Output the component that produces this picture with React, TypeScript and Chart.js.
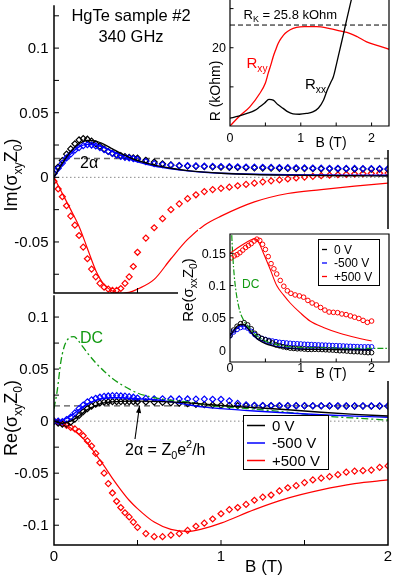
import React, { useEffect, useRef } from 'react';
import { Chart, registerables } from 'chart.js';
Chart.register(...registerables);

const FONT = '"Liberation Sans", Arial, Helvetica, sans-serif';
const RED = '#ff0000';
const BLUE = '#0000ff';
const BLACK = '#000000';
const GREEN = '#129a12';

// ---------- main panels: B grid of measured points ----------
const B_PTS = [0, 0.025, 0.05, 0.075, 0.1, 0.125, 0.15, 0.175, 0.2, 0.225, 0.25, 0.275, 0.3, 0.325, 0.35, 0.375, 0.4, 0.425, 0.45, 0.475, 0.5,
  0.55, 0.6, 0.65, 0.7, 0.75, 0.8, 0.85, 0.9, 0.95, 1.0, 1.05, 1.1, 1.15, 1.2, 1.25, 1.3, 1.35, 1.4, 1.45, 1.5, 1.55, 1.6, 1.65, 1.7, 1.75, 1.8, 1.85, 1.9, 1.95, 2.0];

// Im(sigma_xy Z0) measured
const IM_0V = [0.003, 0.008, 0.013, 0.018, 0.022, 0.026, 0.029, 0.030, 0.0295, 0.028, 0.026, 0.024, 0.022, 0.020, 0.0185, 0.0175, 0.0168, 0.016, 0.0155, 0.015, 0.0148,
  0.0132, 0.0118, 0.0105, 0.0096, 0.009, 0.0087, 0.0085, 0.0083, 0.008, 0.0078, 0.0077, 0.0076, 0.0075, 0.0073, 0.0072, 0.0071, 0.007, 0.0069, 0.0068, 0.0068, 0.0067, 0.0066, 0.0066, 0.0065, 0.0065, 0.0064, 0.0064, 0.0063, 0.0063, 0.0062];
const IM_M500 = [0.003, 0.007, 0.011, 0.015, 0.018, 0.021, 0.023, 0.0245, 0.0252, 0.025, 0.0243, 0.023, 0.0215, 0.020, 0.0185, 0.0172, 0.0162, 0.0155, 0.015, 0.0145, 0.014,
  0.0122, 0.0106, 0.0098, 0.0094, 0.0091, 0.009, 0.0088, 0.0086, 0.0085, 0.0084, 0.0083, 0.0082, 0.008, 0.0079, 0.0078, 0.0077, 0.0076, 0.0075, 0.0074, 0.0073, 0.0072, 0.0071, 0.007, 0.007, 0.0069, 0.0069, 0.0068, 0.0068, 0.0067, 0.0067];
const IM_P500 = [-0.003, -0.009, -0.015, -0.022, -0.030, -0.037, -0.045, -0.054, -0.063, -0.071, -0.077, -0.082, -0.085, -0.0865, -0.0875, -0.0875, -0.086, -0.082, -0.077, -0.069, -0.058,
  -0.047, -0.039, -0.032, -0.025, -0.0205, -0.0165, -0.0135, -0.011, -0.0095, -0.0085, -0.0076, -0.0065, -0.0055, -0.0045, -0.0035, -0.0027, -0.002, -0.0012, -0.0005, 0.0002, 0.0008, 0.0013, 0.0017, 0.002, 0.0023, 0.0026, 0.0028, 0.003, 0.0032, 0.0033];

// Re(sigma_xy Z0) measured
const RE_0V = [0, -0.002, -0.003, -0.003, -0.001, 0.002, 0.0055, 0.009, 0.012, 0.0145, 0.0163, 0.0175, 0.0182, 0.0186, 0.0188, 0.0188, 0.0188, 0.0188, 0.0188, 0.0187, 0.0186,
  0.0185, 0.0183, 0.018, 0.0176, 0.0172, 0.0168, 0.0162, 0.0158, 0.0155, 0.0152, 0.0151, 0.015, 0.015, 0.0149, 0.0149, 0.0148, 0.0148, 0.0147, 0.0147, 0.0147, 0.0146, 0.0146, 0.0146, 0.0145, 0.0145, 0.0145, 0.0145, 0.0144, 0.0144, 0.0144];
const RE_M500 = [0, 0, -0.0005, 0.0015, 0.004, 0.008, 0.012, 0.0155, 0.0185, 0.0205, 0.022, 0.023, 0.0238, 0.0242, 0.0245, 0.0245, 0.0243, 0.024, 0.0235, 0.023, 0.0222,
  0.0218, 0.0215, 0.0215, 0.0213, 0.0213, 0.0213, 0.0212, 0.0212, 0.021, 0.021, 0.0195, 0.017, 0.0157, 0.0152, 0.015, 0.015, 0.015, 0.0149, 0.0149, 0.0149, 0.0148, 0.0148, 0.0148, 0.0148, 0.0147, 0.0147, 0.0147, 0.0147, 0.0147, 0.0147];
const RE_P500 = [0, -0.001, -0.002, -0.004, -0.006, -0.0075, -0.010, -0.014, -0.019, -0.024, -0.031, -0.040, -0.050, -0.060, -0.069, -0.077, -0.083, -0.088, -0.092, -0.097, -0.102,
  -0.108, -0.111, -0.111, -0.1095, -0.108, -0.105, -0.101, -0.098, -0.094, -0.089, -0.085, -0.083, -0.080, -0.076, -0.073, -0.071, -0.067, -0.064, -0.062, -0.059, -0.0565, -0.0548, -0.0533, -0.0514, -0.049, -0.048, -0.0476, -0.047, -0.0444, -0.043];

// model curves (main panels)
const FIT_B = [0, 0.05, 0.1, 0.15, 0.2, 0.25, 0.3, 0.35, 0.4, 0.45, 0.5, 0.6, 0.7, 0.8, 0.9, 1.0, 1.2, 1.4, 1.6, 1.8, 2.0];
const IM_FIT_0V = [0, 0.011, 0.020, 0.026, 0.0285, 0.028, 0.0255, 0.022, 0.0185, 0.0155, 0.013, 0.0095, 0.007, 0.0052, 0.004, 0.0032, 0.0022, 0.0017, 0.0014, 0.0012, 0.001];
const IM_FIT_M500 = [0, 0.010, 0.018, 0.0235, 0.0255, 0.025, 0.023, 0.020, 0.017, 0.0143, 0.012, 0.0088, 0.0066, 0.005, 0.0039, 0.0032, 0.0024, 0.002, 0.0018, 0.0017, 0.0016];
const IM_FIT_P500 = [0, -0.0125, -0.025, -0.038, -0.055, -0.072, -0.083, -0.088, -0.0898, -0.089, -0.0865, -0.079, -0.063, -0.048, -0.037, -0.030, -0.019, -0.0125, -0.0095, -0.0068, -0.0045];
const RE_FIT_0V = [0, -0.002, 0.0, 0.005, 0.011, 0.015, 0.0175, 0.0185, 0.019, 0.0192, 0.0192, 0.019, 0.0185, 0.0175, 0.0163, 0.015, 0.013, 0.011, 0.0085, 0.0065, 0.005];
const RE_FIT_M500 = [0, 0.001, 0.005, 0.011, 0.0165, 0.020, 0.022, 0.0225, 0.0225, 0.022, 0.0215, 0.0205, 0.0185, 0.0158, 0.0135, 0.012, 0.0097, 0.0078, 0.0062, 0.0048, 0.0037];
const RE_FIT_P500 = [0, -0.002, -0.0065, -0.013, -0.021, -0.032, -0.043, -0.055, -0.066, -0.076, -0.084, -0.097, -0.104, -0.106, -0.103, -0.098, -0.085, -0.074, -0.066, -0.060, -0.0565];

// DC Hall conductivity (bottom panel)
const DC_B = [0, 0.02, 0.04, 0.06, 0.08, 0.1, 0.12, 0.14, 0.17, 0.2, 0.25, 0.3, 0.35, 0.4, 0.5, 0.6, 0.7, 0.8, 0.9, 1.0, 1.2, 1.4, 1.6, 1.8, 2.0];
const RE_DC = [0.012, 0.03, 0.056, 0.071, 0.078, 0.081, 0.0812, 0.0785, 0.072, 0.0655, 0.056, 0.048, 0.041, 0.0355, 0.027, 0.0225, 0.020, 0.0185, 0.016, 0.014, 0.0115, 0.0085, 0.005, 0.003, 0.001];

const ALPHA2 = 0.0146; // 2 alpha = Z0 e^2 / h

// ---------- inset 1: DC resistances ----------
const RXY_B = [0, 0.14, 0.28, 0.42, 0.5, 0.54, 0.58, 0.61, 0.65, 0.68, 0.73, 0.78, 0.85, 0.94, 1.05, 1.22, 1.41, 1.55, 1.69, 1.8, 1.93, 2.1, 2.25];
const RXY = [0, 2.6, 4.9, 8.3, 11.0, 13.5, 15.8, 17.7, 19.7, 21.1, 22.6, 23.7, 24.6, 25.2, 25.4, 25.4, 24.9, 24.3, 23.7, 22.8, 21.5, 20.5, 19.6];
const RXX_B = [0, 0.12, 0.24, 0.35, 0.42, 0.49, 0.55, 0.61, 0.68, 0.75, 0.82, 0.89, 0.98, 1.08, 1.17, 1.25, 1.32, 1.37, 1.42, 1.46, 1.5, 1.55, 1.6, 1.65, 1.7, 1.75];
const RXX = [2.0, 2.5, 3.2, 4.0, 4.9, 5.9, 6.8, 6.6, 5.4, 4.5, 3.6, 3.1, 3.0, 3.2, 3.6, 4.6, 6.6, 9.0, 11.0, 12.6, 15.5, 19.4, 23.3, 27.3, 31.2, 35];
const RK = 25.8;

// ---------- inset 2: Re(sigma_xx Z0) ----------
const XX_B = [0, 0.05, 0.1, 0.15, 0.2, 0.25, 0.3, 0.35, 0.4, 0.45, 0.5, 0.55, 0.6, 0.65, 0.7, 0.75, 0.8, 0.85, 0.9, 0.95, 1.0, 1.05, 1.1, 1.15, 1.2, 1.25, 1.3, 1.35, 1.4, 1.45, 1.5, 1.55, 1.6, 1.65, 1.7, 1.75, 1.8, 1.85, 1.9, 1.95, 2.0];
const XX_0V = [0.0226, 0.031, 0.037, 0.041, 0.0425, 0.039, 0.033, 0.026, 0.021, 0.018, 0.016, 0.014, 0.011, 0.008, 0.0065, 0.005, 0.004, 0.003, 0.0025, 0.002, 0.002, 0.0015, 0.001, 0.001, 0.0012, 0.001, 0.0008, 0.0005, 0.0002, 0, -0.0005, -0.001, -0.001, -0.0015, -0.002, -0.0025, -0.0025, -0.003, -0.0035, -0.004, -0.004];
const XX_M500 = [0.022, 0.028, 0.032, 0.035, 0.036, 0.034, 0.029, 0.024, 0.020, 0.018, 0.0165, 0.015, 0.014, 0.013, 0.012, 0.0115, 0.011, 0.0105, 0.010, 0.0098, 0.0095, 0.009, 0.0088, 0.0085, 0.0082, 0.008, 0.0078, 0.0076, 0.0074, 0.007, 0.0068, 0.0066, 0.0063, 0.006, 0.0058, 0.0055, 0.0053, 0.005, 0.005, 0.005, 0.005];
const XX_RED_B = [0.02, 0.06, 0.1, 0.14, 0.18, 0.22, 0.26, 0.3, 0.34, 0.38, 0.42, 0.46, 0.5, 0.54, 0.58, 0.62, 0.66, 0.71, 0.76, 0.81,
  0.86, 0.92, 0.98, 1.04, 1.1, 1.16, 1.22, 1.28, 1.34, 1.4, 1.46, 1.52, 1.58, 1.64, 1.7, 1.76, 1.82, 1.88, 1.94, 2.0];
const XX_P500 = [0.143, 0.146, 0.148, 0.151, 0.155, 0.159, 0.162, 0.165, 0.169, 0.172, 0.170, 0.164, 0.156, 0.145, 0.134, 0.126, 0.118, 0.108, 0.099, 0.092,
  0.088, 0.0855, 0.084, 0.082, 0.077, 0.073, 0.070, 0.066, 0.062, 0.059, 0.0585, 0.058, 0.056, 0.055, 0.053, 0.051, 0.049, 0.046, 0.043, 0.045];
const XX_FIT_B = [0, 0.05, 0.1, 0.15, 0.2, 0.25, 0.3, 0.35, 0.4, 0.5, 0.6, 0.7, 0.8, 1.0, 1.2, 1.5, 2.0];
const XX_FIT_0V = [0.022, 0.030, 0.037, 0.040, 0.039, 0.034, 0.027, 0.021, 0.016, 0.010, 0.0065, 0.004, 0.0028, 0.0015, 0.001, 0.0006, 0.0003];
const XX_FIT_M500 = [0.021, 0.028, 0.034, 0.037, 0.037, 0.033, 0.027, 0.021, 0.0165, 0.011, 0.0075, 0.005, 0.0035, 0.002, 0.0015, 0.001, 0.0008];
const XX_FIT_RED_B = [0, 0.1, 0.2, 0.3, 0.35, 0.4, 0.47, 0.565, 0.66, 0.755, 0.85, 0.99, 1.13, 1.32, 1.55, 1.79, 2.0];
const XX_FIT_P500 = [0.15, 0.158, 0.165, 0.171, 0.173, 0.168, 0.151, 0.126, 0.100, 0.0855, 0.073, 0.058, 0.045, 0.035, 0.026, 0.019, 0.014];
const XX_DC_B = [0, 0.02, 0.04, 0.06, 0.08, 0.1, 0.14, 0.18, 0.21, 0.26, 0.31, 0.36, 0.42, 0.5, 0.61, 0.7, 0.85, 1.0, 1.32, 1.79, 2.25];
const XX_DC = [0.25, 0.19, 0.145, 0.115, 0.095, 0.08, 0.06, 0.049, 0.043, 0.036, 0.030, 0.024, 0.019, 0.014, 0.010, 0.0075, 0.005, 0.004, 0.0035, 0.0025, 0.0025];

// ---------- axes ----------
const MAIN_X_RANGE = [0, 2];
const TOP_Y_RANGE = [-0.0895, 0.1332];
const BOT_Y_RANGE = [-0.119, 0.121];
const INSET_X_RANGE = [0, 2.246];
const R_RANGE = [0, 32.2];
const XX_RANGE = [-0.0185, 0.18];

const MAIN_X_TICKS = [0.5, 1, 1.5];
const MAIN_X_LABELS = ['0', '1', '2'];
const MAIN_X_LABEL_VALS = [0, 1, 2];
const TOP_Y_TICKS = [-0.075, -0.05, -0.025, 0, 0.025, 0.05, 0.075, 0.1, 0.125];
const TOP_Y_LABEL_VALS = [-0.05, 0, 0.05, 0.1];
const TOP_Y_LABELS = ['-0.05', '0', '0.05', '0.1'];
const BOT_Y_TICKS = [-0.1, -0.075, -0.05, -0.025, 0, 0.025, 0.05, 0.075, 0.1];
const BOT_Y_LABEL_VALS = [-0.1, -0.05, 0, 0.05, 0.1];
const BOT_Y_LABELS = ['-0.1', '-0.05', '0', '0.05', '0.1'];
const INSET_X_TICKS = [0.5, 1, 1.5, 2];
const INSET_X_LABEL_VALS = [0, 1, 2];
const INSET_X_LABELS = ['0', '1', '2'];
const R_TICKS = [10, 20, 30];
const R_LABEL_VALS = [20];
const R_LABELS = ['20'];
const XX_TICKS = [0.05, 0.1, 0.15];
const XX_LABEL_VALS = [0, 0.05, 0.1, 0.15];
const XX_LABELS = ['0', '0.05', '0.1', '0.15'];

const LEGEND_LABELS = ['0 V', '-500 V', '+500 V'];
const LEGEND_COLORS = [BLACK, BLUE, RED];

// ---------- helpers ----------
type Part = { t: string; s?: 'sub' | 'sup' };

function drawRich(ctx: any, parts: Part[], x: number, y: number, size: number, align: string, color: string, rotate = false) {
  ctx.save();
  ctx.fillStyle = color;
  ctx.textBaseline = 'alphabetic';
  ctx.textAlign = 'left';
  const small = size * 0.68;
  const widths = parts.map((p) => {
    ctx.font = `${p.s ? small : size}px ${FONT}`;
    return ctx.measureText(p.t).width;
  });
  const total = widths.reduce((a, b) => a + b, 0);
  ctx.translate(x, y);
  if (rotate) ctx.rotate(-Math.PI / 2);
  let cx = align === 'center' ? -total / 2 : align === 'right' ? -total : 0;
  parts.forEach((p, i) => {
    ctx.font = `${p.s ? small : size}px ${FONT}`;
    const dy = p.s === 'sub' ? size * 0.28 : p.s === 'sup' ? -size * 0.42 : 0;
    ctx.fillText(p.t, cx, dy);
    cx += widths[i];
  });
  ctx.restore();
}

function drawArrow(ctx: any, x0: number, y0: number, x1: number, y1: number) {
  ctx.save();
  ctx.strokeStyle = '#000';
  ctx.fillStyle = '#000';
  ctx.lineWidth = 1.1;
  ctx.beginPath();
  ctx.moveTo(x0, y0);
  ctx.lineTo(x1, y1);
  ctx.stroke();
  const a = Math.atan2(y1 - y0, x1 - x0);
  const L = 7, W = 2.6;
  ctx.beginPath();
  ctx.moveTo(x1, y1);
  ctx.lineTo(x1 - L * Math.cos(a) + W * Math.sin(a), y1 - L * Math.sin(a) - W * Math.cos(a));
  ctx.lineTo(x1 - L * Math.cos(a) - W * Math.sin(a), y1 - L * Math.sin(a) + W * Math.cos(a));
  ctx.closePath();
  ctx.fill();
  ctx.restore();
}

function drawLegend(ctx: any, box: number[], rowYs: number[], lineX: number[], textX: number, fs: number, lw: number) {
  ctx.save();
  ctx.fillStyle = '#fff';
  ctx.fillRect(box[0], box[1], box[2], box[3]);
  ctx.strokeStyle = '#000';
  ctx.lineWidth = 1;
  ctx.strokeRect(box[0], box[1], box[2], box[3]);
  ctx.font = `${fs}px ${FONT}`;
  ctx.textAlign = 'left';
  ctx.textBaseline = 'middle';
  LEGEND_LABELS.forEach((lab, i) => {
    ctx.strokeStyle = LEGEND_COLORS[i];
    ctx.lineWidth = lw;
    ctx.beginPath();
    ctx.moveTo(lineX[0], rowYs[i]);
    ctx.lineTo(lineX[1], rowYs[i]);
    ctx.stroke();
    ctx.fillStyle = '#000';
    ctx.fillText(lab, textX, rowYs[i] + 1);
  });
  ctx.restore();
}

const xy = (xs: number[], ys: number[]) => xs.map((x, i) => ({ x, y: ys[i] }));

function curve(xs: number[], ys: number[], color: string, width = 1.3, dash: number[] = []) {
  return { data: xy(xs, ys), borderColor: color, borderWidth: width, borderDash: dash, pointRadius: 0, fill: false, cubicInterpolationMode: 'monotone' };
}
function marks(xs: number[], ys: number[], color: string, style: string, r: number, bw = 1.2) {
  return {
    data: xy(xs, ys), showLine: false, borderColor: color, backgroundColor: 'rgba(0,0,0,0)',
    pointStyle: style, pointRadius: r, pointBorderWidth: bw, pointBorderColor: color, pointBackgroundColor: 'rgba(0,0,0,0)',
  };
}
function level(y: number, range: number[], color: string, width: number, dash: number[]) {
  return { data: [{ x: range[0], y }, { x: range[1], y }], borderColor: color, borderWidth: width, borderDash: dash, pointRadius: 0, fill: false };
}

interface AxisSpec {
  xTicks: number[]; yTicks: number[];
  xLabelVals: number[]; xLabels: string[];
  yLabelVals: number[]; yLabels: string[];
  xLabelY: number; yLabelX: number;
  fs: number; frameW: number; tickLen: number;
  drawTop: boolean;
}

function decor(ox: number, oy: number, axis: AxisSpec, white: number[][], ann: (ctx: any) => void) {
  return {
    id: 'decor',
    beforeDraw(chart: any) {
      const ctx = chart.ctx;
      ctx.save();
      ctx.fillStyle = '#fff';
      white.forEach(([x, y, w, h]) => ctx.fillRect(x - ox, y - oy, w, h));
      ctx.restore();
    },
    afterDraw(chart: any) {
      const { ctx, chartArea: a } = chart;
      const xs = chart.scales.x, ys = chart.scales.y;
      ctx.save();
      ctx.strokeStyle = '#000';
      ctx.lineWidth = axis.frameW;
      ctx.beginPath();
      if (axis.drawTop) {
        ctx.moveTo(a.left, a.bottom);
        ctx.lineTo(a.left, a.top);
        ctx.lineTo(a.right, a.top);
        ctx.lineTo(a.right, a.bottom);
        ctx.closePath();
      } else {
        ctx.moveTo(a.left, a.top);
        ctx.lineTo(a.left, a.bottom);
        ctx.lineTo(a.right, a.bottom);
        ctx.lineTo(a.right, a.top);
      }
      ctx.stroke();
      ctx.lineWidth = 1;
      ctx.beginPath();
      axis.xTicks.forEach((v) => { const p = xs.getPixelForValue(v); ctx.moveTo(p, a.bottom); ctx.lineTo(p, a.bottom - axis.tickLen); });
      axis.yTicks.forEach((v) => { const p = ys.getPixelForValue(v); ctx.moveTo(a.left, p); ctx.lineTo(a.left + axis.tickLen, p); });
      ctx.stroke();
      ctx.fillStyle = '#000';
      ctx.font = `${axis.fs}px ${FONT}`;
      ctx.textAlign = 'center';
      ctx.textBaseline = 'alphabetic';
      axis.xLabelVals.forEach((v, i) => ctx.fillText(axis.xLabels[i], xs.getPixelForValue(v), axis.xLabelY - oy));
      ctx.textAlign = 'right';
      ctx.textBaseline = 'middle';
      axis.yLabelVals.forEach((v, i) => ctx.fillText(axis.yLabels[i], axis.yLabelX - ox, ys.getPixelForValue(v) + 1));
      ctx.translate(-ox, -oy);
      ann(ctx);
      ctx.restore();
    },
  };
}

function makeConfig(datasets: any[], xr: number[], yr: number[], pad: any, plugin: any) {
  return {
    type: 'line',
    data: { datasets },
    options: {
      responsive: false,
      animation: false,
      devicePixelRatio: 1,
      events: [],
      layout: { padding: pad },
      plugins: { legend: { display: false }, tooltip: { enabled: false } },
      scales: {
        x: { type: 'linear', min: xr[0], max: xr[1], display: false },
        y: { type: 'linear', min: yr[0], max: yr[1], display: false },
      },
    },
    plugins: [plugin],
  };
}

// ---------- chart builders (ox, oy = canvas offset on page) ----------
function topConfig(ox: number, oy: number) {
  const datasets = [
    curve(FIT_B, IM_FIT_0V, BLACK, 1.4),
    curve(FIT_B, IM_FIT_M500, BLUE, 1.4),
    curve(FIT_B, IM_FIT_P500, RED, 1.2),
    marks(B_PTS, IM_M500, BLUE, 'rectRot', 3),
    marks(B_PTS, IM_0V, BLACK, 'rectRot', 3),
    marks(B_PTS, IM_P500, RED, 'rectRot', 3),
    level(ALPHA2, MAIN_X_RANGE, '#666', 1.4, [6, 4]),
    level(0, MAIN_X_RANGE, '#888', 1, [1.5, 2.5]),
  ];
  const axis: AxisSpec = {
    xTicks: MAIN_X_TICKS, yTicks: TOP_Y_TICKS,
    xLabelVals: [], xLabels: [],
    yLabelVals: TOP_Y_LABEL_VALS, yLabels: TOP_Y_LABELS,
    xLabelY: 0, yLabelX: 48.5, fs: 15, frameW: 1.5, tickLen: 5, drawTop: false,
  };
  const ann = (ctx: any) => {
    drawRich(ctx, [{ t: 'HgTe sample #2' }], 131, 21, 16.5, 'center', '#000');
    drawRich(ctx, [{ t: '340 GHz' }], 131, 41.5, 16.5, 'center', '#000');
    drawRich(ctx, [{ t: '2α' }], 80, 168, 16, 'left', '#000');
    drawRich(ctx, [{ t: 'Im(σ' }, { t: 'xy', s: 'sub' }, { t: 'Z' }, { t: '0', s: 'sub' }, { t: ')' }], 16.5, 175, 18, 'center', '#000', true);
  };
  return makeConfig(datasets, MAIN_X_RANGE, TOP_Y_RANGE, { left: 54, right: 7, top: 0, bottom: 7 }, decor(ox, oy, axis, [], ann));
}

function bottomConfig(ox: number, oy: number) {
  const datasets = [
    curve(FIT_B, RE_FIT_0V, BLACK, 1.4),
    curve(FIT_B, RE_FIT_M500, BLUE, 1.4),
    curve(FIT_B, RE_FIT_P500, RED, 1.2),
    curve(DC_B, RE_DC, GREEN, 1.3, [7, 3, 2, 3]),
    marks(B_PTS, RE_M500, BLUE, 'rectRot', 3),
    marks(B_PTS, RE_0V, BLACK, 'rectRot', 3),
    marks(B_PTS, RE_P500, RED, 'rectRot', 3),
    level(ALPHA2, MAIN_X_RANGE, '#555', 1.2, [6, 4]),
    level(0, MAIN_X_RANGE, '#888', 1, [1.5, 2.5]),
  ];
  const axis: AxisSpec = {
    xTicks: MAIN_X_TICKS, yTicks: BOT_Y_TICKS,
    xLabelVals: MAIN_X_LABEL_VALS, xLabels: MAIN_X_LABELS,
    yLabelVals: BOT_Y_LABEL_VALS, yLabels: BOT_Y_LABELS,
    xLabelY: 561, yLabelX: 48.5, fs: 15, frameW: 1.5, tickLen: 5, drawTop: false,
  };
  const ann = (ctx: any) => {
    drawRich(ctx, [{ t: 'Re(σ' }, { t: 'xy', s: 'sub' }, { t: 'Z' }, { t: '0', s: 'sub' }, { t: ')' }], 16.5, 418, 18, 'center', '#000', true);
    drawRich(ctx, [{ t: 'B (T)' }], 264, 572, 17, 'center', '#000');
    drawRich(ctx, [{ t: 'DC' }], 80, 343, 16, 'left', GREEN);
    drawRich(ctx, [{ t: '2α = Z' }, { t: '0', s: 'sub' }, { t: 'e' }, { t: '2', s: 'sup' }, { t: '/h' }], 125, 455, 16, 'left', '#000');
    drawArrow(ctx, 135, 439, 139.5, 406);
    drawLegend(ctx, [243.5, 415.5, 85, 54], [425.5, 443, 460.5], [247, 265], 272, 15, 1.5);
  };
  return makeConfig(datasets, MAIN_X_RANGE, BOT_Y_RANGE, { left: 54, right: 7, top: 3, bottom: 31 }, decor(ox, oy, axis, [], ann));
}

function inset1Config(ox: number, oy: number) {
  const datasets = [
    curve(RXX_B, RXX, BLACK, 1.3),
    curve(RXY_B, RXY, RED, 1.3),
    level(RK, INSET_X_RANGE, '#000', 1, [5, 3]),
  ];
  const axis: AxisSpec = {
    xTicks: INSET_X_TICKS, yTicks: R_TICKS,
    xLabelVals: INSET_X_LABEL_VALS, xLabels: INSET_X_LABELS,
    yLabelVals: R_LABEL_VALS, yLabels: R_LABELS,
    xLabelY: 142, yLabelX: 226, fs: 12.5, frameW: 1.2, tickLen: 3.5, drawTop: false,
  };
  const ann = (ctx: any) => {
    drawRich(ctx, [{ t: 'R (kOhm)' }], 219.5, 91, 14, 'center', '#000', true);
    drawRich(ctx, [{ t: 'B (T)' }], 331, 146.5, 14, 'center', '#000');
    drawRich(ctx, [{ t: 'R' }, { t: 'K', s: 'sub' }, { t: ' = 25.8 kOhm' }], 243.5, 18.5, 13, 'left', '#000');
    drawRich(ctx, [{ t: 'R' }, { t: 'xy', s: 'sub' }], 246.5, 68, 15, 'left', RED);
    drawRich(ctx, [{ t: 'R' }, { t: 'xx', s: 'sub' }], 305, 89, 15, 'left', '#000');
  };
  return makeConfig(datasets, INSET_X_RANGE, R_RANGE, { left: 32, right: 6, top: 0, bottom: 24 }, decor(ox, oy, axis, [[198, 0, 197, 150]], ann));
}

function inset2Config(ox: number, oy: number) {
  const datasets = [
    curve(XX_FIT_B, XX_FIT_0V, BLACK, 1.2),
    curve(XX_FIT_B, XX_FIT_M500, BLUE, 1.2),
    curve(XX_FIT_RED_B, XX_FIT_P500, RED, 1.1),
    curve(XX_DC_B, XX_DC, GREEN, 1.2, [6, 2, 1.5, 2]),
    marks(XX_B, XX_0V, BLACK, 'circle', 2.3, 1),
    marks(XX_B, XX_M500, BLUE, 'circle', 2.3, 1),
    marks(XX_RED_B, XX_P500, RED, 'circle', 2.3, 1),
  ];
  const axis: AxisSpec = {
    xTicks: INSET_X_TICKS, yTicks: XX_TICKS,
    xLabelVals: INSET_X_LABEL_VALS, xLabels: INSET_X_LABELS,
    yLabelVals: XX_LABEL_VALS, yLabels: XX_LABELS,
    xLabelY: 372, yLabelX: 226, fs: 12.5, frameW: 1.2, tickLen: 3.5, drawTop: true,
  };
  const ann = (ctx: any) => {
    drawRich(ctx, [{ t: 'Re(σ' }, { t: 'xx', s: 'sub' }, { t: 'Z' }, { t: '0', s: 'sub' }, { t: ')' }], 192.5, 290, 15, 'center', '#000', true);
    drawRich(ctx, [{ t: 'B (T)' }], 331, 377.5, 14, 'center', '#000');
    drawRich(ctx, [{ t: 'DC' }], 242, 288, 12, 'left', GREEN);
    drawLegend(ctx, [318.5, 239.5, 61, 46], [249.5, 263, 276.5], [322, 327], 334, 12, 1.3);
  };
  return makeConfig(datasets, INSET_X_RANGE, XX_RANGE, { left: 54, right: 6, top: 4, bottom: 19 },
    decor(ox, oy, axis, [[198, 229, 197, 152], [178, 255, 20, 126]], ann));
}

function ChartBox(props: { left: number; top: number; width: number; height: number; make: (ox: number, oy: number) => any }) {
  const ref = useRef<HTMLCanvasElement>(null);
  useEffect(() => {
    const chart = new Chart(ref.current as HTMLCanvasElement, props.make(props.left, props.top) as any);
    return () => chart.destroy();
  }, []);
  return (
    <canvas
      ref={ref}
      width={props.width}
      height={props.height}
      style={{ position: 'absolute', left: props.left, top: props.top, width: props.width, height: props.height }}
    />
  );
}

export default function App() {
  return (
    <div style={{ position: 'absolute', left: 0, top: 0, width: 395, height: 576, background: '#fff', overflow: 'hidden' }}>
      <ChartBox left={0} top={0} width={395} height={300} make={topConfig} />
      <ChartBox left={0} top={290} width={395} height={286} make={bottomConfig} />
      <ChartBox left={198} top={0} width={197} height={150} make={inset1Config} />
      <ChartBox left={176} top={229} width={219} height={152} make={inset2Config} />
    </div>
  );
}
